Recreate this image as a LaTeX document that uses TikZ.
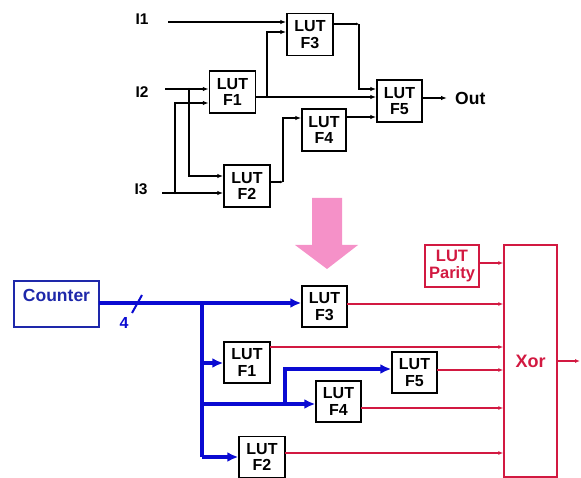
\documentclass[tikz,border=0pt]{standalone}
\usepackage{fontspec}
\setmainfont{Liberation Sans}
\usetikzlibrary{arrows.meta}
\definecolor{bblue}{RGB}{10,10,210}
\definecolor{tblue}{RGB}{30,40,170}
\definecolor{rred}{RGB}{210,25,65}
\definecolor{ppink}{RGB}{245,145,200}
\begin{document}
\begin{tikzpicture}[x=1pt,y=-1pt,
  lut/.style={draw,line width=1.5pt,rectangle,inner sep=0pt,minimum width=46pt,minimum height=42pt,align=center,font=\fontsize{16}{16.5}\selectfont\bfseries},
  lbl/.style={inner sep=0pt,font=\fontsize{15.5}{16}\selectfont\bfseries},
  arr/.style={line width=1.2pt,-{Latex[length=6pt,width=4.5pt]}},
  ln/.style={line width=1.2pt},
  sarr/.style={line width=1.2pt,-{Latex[length=3pt,width=3pt]}},
  barr/.style={line width=3.5pt,bblue,-{Latex[length=11pt,width=10pt]}},
  bln/.style={line width=3.5pt,bblue},
  rarr/.style={line width=1.2pt,rred,-{Latex[length=5pt,width=4pt]}},
]
\useasboundingbox (0,0) rectangle (581,478);
% ---------- top ----------
\node[lut] (f3) at (310,34.5) {LUT\\F3};
\node[lut] (f1) at (232.5,92) {LUT\\F1};
\node[lut,minimum width=45pt] (f5) at (399.5,101) {LUT\\F5};
\node[lut,minimum width=44pt] (f4) at (324,130) {LUT\\F4};
\node[lut] (f2) at (247,186) {LUT\\F2};
\node[lbl] (i1) at (142,19) {I1};
\node[lbl] (i2) at (142,92) {I2};
\node[lbl] (i3) at (141,189) {I3};
\node[lbl,font=\fontsize{17.5}{18}\selectfont\bfseries,anchor=west] (out) at (455,98) {Out};
\coordinate (i1s) at (168,22);
\coordinate (i2s) at (165,89);
\coordinate (b1) at (189,89);
\coordinate (b1e) at (189,176);
\coordinate (i3s) at (162,193);
\coordinate (b2) at (175,193);
\coordinate (b2e) at (175,103);
\coordinate (f1o) at (256,97);
\coordinate (b3) at (267,97);
\coordinate (b3e) at (267,32);
\coordinate (f3o) at (333,24);
\coordinate (c3) at (359,24);
\coordinate (c3e) at (359,89);
\coordinate (f2o) at (270,182);
\coordinate (c2) at (283,182);
\coordinate (c2e) at (283,118);
\coordinate (f4o) at (346,117);
\coordinate (f5o) at (422,98);
\coordinate (oute) at (447,98);
\draw[arr] (i1s) -- (i1s -| f3.west);
\draw[arr] (i2s) -- (i2s -| f1.west);
\draw[arr] (b1) -- (b1e) -- (b1e -| f2.west);
\draw[arr] (i3s) -- (i3s -| f2.west);
\draw[arr] (b2) -- (b2e) -- (b2e -| f1.west);
\draw[arr] (f1o) -- (f1o -| f5.west);
\draw[arr] (b3) -- (b3e) -- (b3e -| f3.west);
\draw[sarr] (f3o) -- (c3);
\draw[arr] (c3) -- (c3e) -- (c3e -| f5.west);
\draw[sarr] (f2o) -- (c2);
\draw[arr] (c2) -- (c2e) -- (c2e -| f4.west);
\draw[arr] (f4o) -- (f4o -| f5.west);
\draw[arr] (f5o) -- (oute);
\fill (b1) circle (1.2pt) (b2) circle (1.2pt) (b3) circle (1.2pt);
% ---------- pink arrow ----------
\fill[ppink] (312,198) -- (342,198) -- (342,245) -- (358,245) -- (327,269) -- (295,245) -- (312,245) -- cycle;
% ---------- bottom ----------
\node[draw=tblue,line width=1.5pt,rectangle,minimum width=85pt,minimum height=46pt] (cnt) at (56.5,304) {};
\node[lbl,text=tblue,font=\fontsize{17.5}{18}\selectfont\bfseries] (cntt) at (56.5,295) {Counter};
\node[lut,minimum width=45pt,minimum height=41pt] (g3) at (324.5,306.5) {LUT\\F3};
\node[lut,minimum height=41pt] (g1) at (247,362.5) {LUT\\F1};
\node[lut,minimum width=45pt,minimum height=41pt] (g4) at (338.5,401.5) {LUT\\F4};
\node[lut,minimum width=45pt,minimum height=41pt] (g5) at (414.5,372.5) {LUT\\F5};
\node[lut,minimum height=41pt] (g2) at (262,457) {LUT\\F2};
\node[lut,draw=rred,text=rred,minimum width=54pt,font=\fontsize{16.5}{17}\selectfont\bfseries] (par) at (452,266) {LUT\\Parity};
\node[draw=rred,line width=1.5pt,rectangle,minimum width=53pt,minimum height=232pt,text=rred,font=\fontsize{18}{18}\selectfont\bfseries] (xor) at (530.5,361) {Xor};
\coordinate (cno) at (99,303);
\coordinate (bv) at (202,303);
\coordinate (bv1) at (202,363);
\coordinate (bv4) at (202,404);
\coordinate (bv2) at (202,457);
\coordinate (bk) at (285,404);
\coordinate (bke) at (285,369);
\coordinate (s1) at (132,313);
\coordinate (s2) at (142,295);
\draw[barr] (cno) -- (cno -| g3.west);
\draw[line width=2pt,bblue] (s1) -- (s2);
\node[lbl,text=bblue,font=\fontsize{16}{16}\selectfont\bfseries] (four) at (124,323) {4};
\draw[bln] (bv) -- (bv2);
\draw[barr] (bv2) -- (bv2 -| g2.west);
\draw[barr] (bv1) -- (bv1 -| g1.west);
\draw[barr] (bv4) -- (bv4 -| g4.west);
\draw[barr] (bk) -- (bke) -- (bke -| g5.west);
\coordinate (po) at (479,263);
\coordinate (r3) at (347,304);
\coordinate (r1) at (270,347);
\coordinate (r5) at (437,370);
\coordinate (r4) at (361,408);
\coordinate (r2) at (285,453);
\coordinate (xo) at (557,361);
\coordinate (xoe) at (580,361);
\draw[rarr] (po) -- (po -| xor.west);
\draw[rarr] (r3) -- (r3 -| xor.west);
\draw[rarr] (r1) -- (r1 -| xor.west);
\draw[rarr] (r5) -- (r5 -| xor.west);
\draw[rarr] (r4) -- (r4 -| xor.west);
\draw[rarr] (r2) -- (r2 -| xor.west);
\draw[rarr] (xo) -- (xoe);
\end{tikzpicture}
\end{document}
